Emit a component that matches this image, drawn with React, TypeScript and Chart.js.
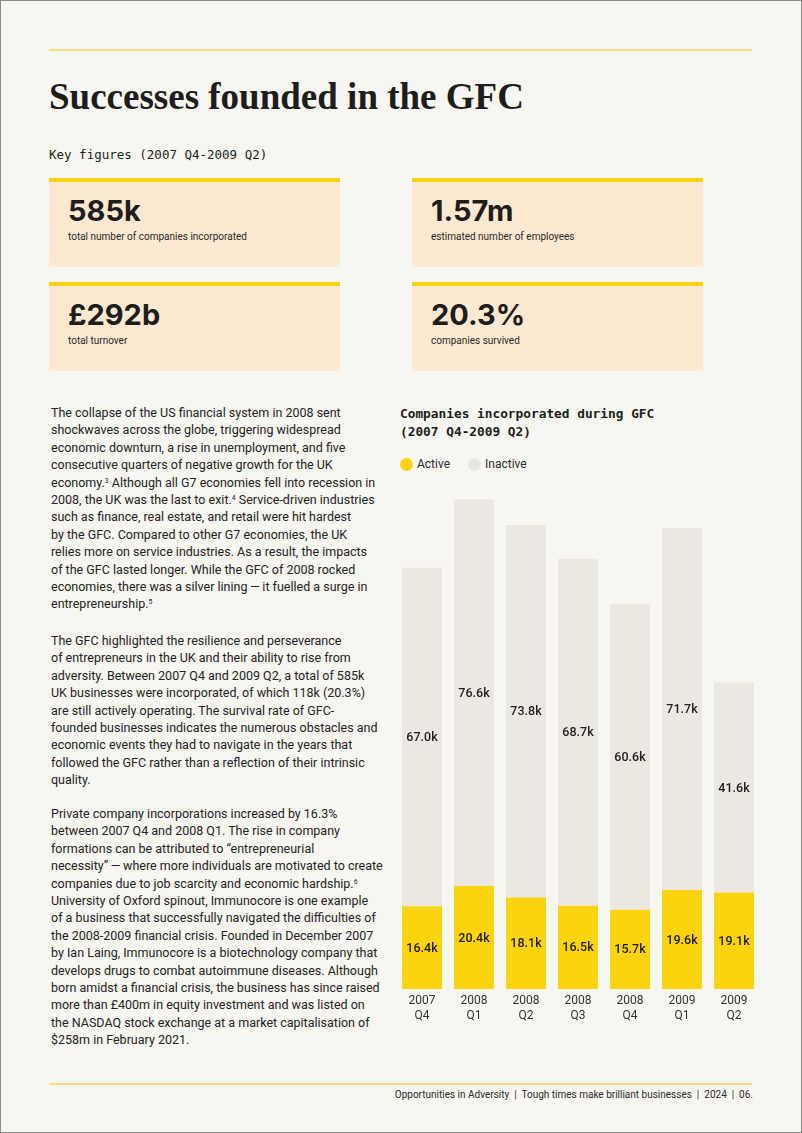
import React, { useEffect, useRef } from "react";
import { Chart, registerables } from "chart.js";

Chart.register(...registerables);

const categories: string[][] = [
  ["2007", "Q4"],
  ["2008", "Q1"],
  ["2008", "Q2"],
  ["2008", "Q3"],
  ["2008", "Q4"],
  ["2009", "Q1"],
  ["2009", "Q2"],
];
const activeValues = [16.4, 20.4, 18.1, 16.5, 15.7, 19.6, 19.1];
const inactiveValues = [67.0, 76.6, 73.8, 68.7, 60.6, 71.7, 41.6];
const seriesNames = ["Active", "Inactive"];

const keyFigures = [
  { value: "585k", label: "total number of companies incorporated" },
  { value: "1.57m", label: "estimated number of employees" },
  { value: "£292b", label: "total turnover" },
  { value: "20.3%", label: "companies survived" },
];

const YELLOW = "#fdd20e";
const GREY = "#ebe8e2";
const BG = "#f8f6f1";
const INK = "#232323";
const BODY_FONT = "Roboto, 'Liberation Sans', sans-serif";
const MONO_FONT = "'DejaVu Sans Mono', 'Liberation Mono', monospace";

const para1: React.ReactNode[] = [
  "The collapse of the US financial system in 2008 sent",
  "shockwaves across the globe, triggering widespread",
  "economic downturn, a rise in unemployment, and five",
  "consecutive quarters of negative growth for the UK",
  <>economy.<sup>3</sup> Although all G7 economies fell into recession in</>,
  <>2008, the UK was the last to exit.<sup>4</sup> Service-driven industries</>,
  "such as finance, real estate, and retail were hit hardest",
  "by the GFC. Compared to other G7 economies, the UK",
  "relies more on service industries. As a result, the impacts",
  "of the GFC lasted longer. While the GFC of 2008 rocked",
  "economies, there was a silver lining\u2009\u2014\u2009it fuelled a surge in",
  <>entrepreneurship.<sup>5</sup></>,
];
const para2: React.ReactNode[] = [
  "The GFC highlighted the resilience and perseverance",
  "of entrepreneurs in the UK and their ability to rise from",
  "adversity. Between 2007 Q4 and 2009 Q2, a total of 585k",
  "UK businesses were incorporated, of which 118k (20.3%)",
  "are still actively operating. The survival rate of GFC-",
  "founded businesses indicates the numerous obstacles and",
  "economic events they had to navigate in the years that",
  "followed the GFC rather than a reflection of their intrinsic",
  "quality.",
];
const para3: React.ReactNode[] = [
  "Private company incorporations increased by 16.3%",
  "between 2007 Q4 and 2008 Q1. The rise in company",
  "formations can be attributed to \u201centrepreneurial",
  "necessity\u201d\u2009\u2014\u2009where more individuals are motivated to create",
  <>companies due to job scarcity and economic hardship.<sup>6</sup></>,
  "University of Oxford spinout, Immunocore is one example",
  "of a business that successfully navigated the difficulties of",
  "the 2008-2009 financial crisis. Founded in December 2007",
  "by Ian Laing, Immunocore is a biotechnology company that",
  "develops drugs to combat autoimmune diseases. Although",
  "born amidst a financial crisis, the business has since raised",
  "more than \u00a3400m in equity investment and was listed on",
  "the NASDAQ stock exchange at a market capitalisation of",
  "$258m in February 2021.",
];

const valueLabelPlugin = {
  id: "valueLabels",
  afterDatasetsDraw(chart: any) {
    const ctx = chart.ctx;
    ctx.save();
    ctx.font = `500 12.5px ${BODY_FONT}`;
    ctx.fillStyle = "#1e1e1e";
    ctx.textAlign = "center";
    ctx.textBaseline = "middle";
    chart.data.datasets.forEach((ds: any, i: number) => {
      const meta = chart.getDatasetMeta(i);
      meta.data.forEach((bar: any, j: number) => {
        const { x, y, base } = bar.getProps(["x", "y", "base"], true);
        ctx.fillText(Number(ds.data[j]).toFixed(1) + "k", x, (y + base) / 2 + 1);
      });
    });
    ctx.restore();
  },
};

function Paragraph({ lines, top }: { lines: React.ReactNode[]; top: number }) {
  return (
    <div
      style={{
        position: "absolute",
        left: 50,
        top,
        fontFamily: BODY_FONT,
        fontSize: 12.5,
        lineHeight: "17.4px",
        color: INK,
        whiteSpace: "nowrap",
      }}
    >
      {lines.map((l, i) => (
        <div key={i}>{l}</div>
      ))}
    </div>
  );
}

function KeyBox({ x, y, value, label }: { x: number; y: number; value: string; label: string }) {
  return (
    <div style={{ position: "absolute", left: x, top: y, width: 291, height: 89 }}>
      <div style={{ position: "absolute", left: 0, top: 0, width: 291, height: 4, background: YELLOW }} />
      <div style={{ position: "absolute", left: 0, top: 4, width: 291, height: 85, background: "#fde9d1" }} />
      <div
        style={{
          position: "absolute",
          left: 19,
          top: 16,
          fontFamily: "Inter, sans-serif",
          fontWeight: 700,
          fontSize: 29,
          lineHeight: "34px",
          color: "#1d1d1b",
        }}
      >
        {value}
      </div>
      <div
        style={{
          position: "absolute",
          left: 19,
          top: 52,
          fontFamily: BODY_FONT,
          fontSize: 10,
          lineHeight: "14px",
          color: "#2a2a2a",
        }}
      >
        {label}
      </div>
    </div>
  );
}

function BarChart() {
  const ref = useRef<HTMLCanvasElement | null>(null);
  useEffect(() => {
    if (!ref.current) return;
    const chart = new Chart(ref.current, {
      type: "bar",
      data: {
        labels: categories,
        datasets: [
          {
            label: seriesNames[0],
            data: activeValues,
            backgroundColor: YELLOW,
            borderWidth: 0,
            barPercentage: 40 / 52,
            categoryPercentage: 1,
          },
          {
            label: seriesNames[1],
            data: inactiveValues,
            backgroundColor: GREY,
            borderWidth: 0,
            barPercentage: 40 / 52,
            categoryPercentage: 1,
          },
        ],
      },
      options: {
        animation: false,
        responsive: false,
        maintainAspectRatio: false,
        layout: { padding: 0 },
        plugins: {
          legend: { display: false },
          tooltip: { enabled: false },
        },
        scales: {
          x: {
            stacked: true,
            grid: { display: false, drawTicks: false },
            border: { display: false },
            ticks: {
              padding: 5,
              color: "#333333",
              font: { family: BODY_FONT, size: 12, lineHeight: 1.2 },
              maxRotation: 0,
              autoSkip: false,
            },
            afterFit: (scale: any) => {
              scale.height = 40;
            },
          },
          y: {
            stacked: true,
            display: false,
            min: 0,
            max: 100,
          },
        },
      },
      plugins: [valueLabelPlugin],
    });
    return () => chart.destroy();
  }, []);
  return (
    <canvas
      ref={ref}
      width={364}
      height={545}
      style={{ position: "absolute", left: 395, top: 483, width: 364, height: 545 }}
    />
  );
}

export default function App() {
  return (
    <div
      style={{
        position: "relative",
        width: 800,
        height: 1131,
        background: BG,
        border: "1px solid #8a8a86",
        overflow: "hidden",
      }}
    >
      <style>{`body{margin:0;} sup{font-size:0.55em; line-height:0; vertical-align: 0.6em;}`}</style>
      <div style={{ position: "absolute", left: 48, top: 48, width: 703, height: 1.5, background: "#f6de84" }} />
      <div
        style={{
          position: "absolute",
          left: 48,
          top: 73,
          fontFamily: "'Liberation Serif', serif",
          fontWeight: 700,
          fontSize: 37,
          lineHeight: "46px",
          color: "#1d1d1b",
          whiteSpace: "nowrap",
        }}
      >
        Successes founded in the GFC
      </div>
      <div
        style={{
          position: "absolute",
          left: 48,
          top: 146,
          fontFamily: MONO_FONT,
          fontSize: 12.5,
          lineHeight: "16px",
          color: "#1d1d1b",
          whiteSpace: "nowrap",
        }}
      >
        Key figures (2007 Q4-2009 Q2)
      </div>
      <KeyBox x={48} y={177} value={keyFigures[0].value} label={keyFigures[0].label} />
      <KeyBox x={411} y={177} value={keyFigures[1].value} label={keyFigures[1].label} />
      <KeyBox x={48} y={281} value={keyFigures[2].value} label={keyFigures[2].label} />
      <KeyBox x={411} y={281} value={keyFigures[3].value} label={keyFigures[3].label} />

      <Paragraph lines={para1} top={403} />
      <Paragraph lines={para2} top={631} />
      <Paragraph lines={para3} top={804} />

      <div
        style={{
          position: "absolute",
          left: 399,
          top: 404,
          fontFamily: MONO_FONT,
          fontWeight: 700,
          fontSize: 12.8,
          lineHeight: "18px",
          color: "#1d1d1b",
          whiteSpace: "nowrap",
        }}
      >
        <div>Companies incorporated during GFC</div>
        <div>(2007 Q4-2009 Q2)</div>
      </div>
      <div
        style={{
          position: "absolute",
          left: 399,
          top: 455,
          display: "flex",
          alignItems: "center",
          fontFamily: BODY_FONT,
          fontSize: 12,
          lineHeight: "16px",
          color: "#2a2a2a",
        }}
      >
        <span style={{ width: 13, height: 13, borderRadius: "50%", background: YELLOW, display: "inline-block" }} />
        <span style={{ marginLeft: 4 }}>{seriesNames[0]}</span>
        <span
          style={{ width: 13, height: 13, borderRadius: "50%", background: "#e8e6e1", display: "inline-block", marginLeft: 18 }}
        />
        <span style={{ marginLeft: 4 }}>{seriesNames[1]}</span>
      </div>

      <BarChart />

      <div style={{ position: "absolute", left: 48, top: 1082, width: 703, height: 1.5, background: "#f6de84" }} />
      <div
        style={{
          position: "absolute",
          right: 48,
          top: 1087,
          fontFamily: BODY_FONT,
          fontSize: 10,
          lineHeight: "14px",
          color: "#2a2a2a",
          whiteSpace: "nowrap",
        }}
      >
        Opportunities in Adversity&nbsp; |&nbsp; Tough times make brilliant businesses&nbsp; |&nbsp; 2024&nbsp; |&nbsp; 06.
      </div>
    </div>
  );
}
